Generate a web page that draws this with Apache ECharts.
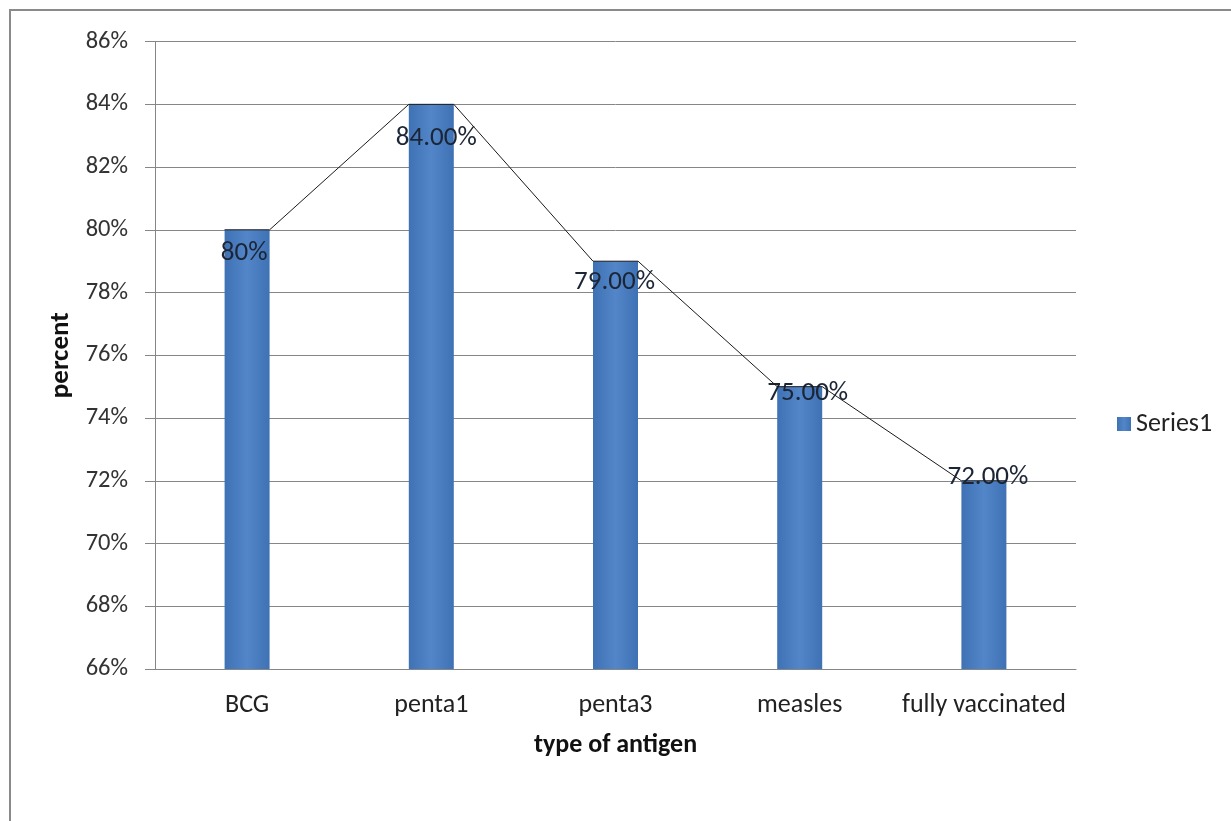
<!DOCTYPE html>
<html>
<head>
<meta charset="utf-8">
<script src="https://cdn.jsdelivr.net/npm/echarts@6/dist/echarts.min.js"></script>
<style>
  html, body { margin: 0; padding: 0; background: #fff; }
  #chart { width: 1231px; height: 821px; }
</style>
</head>
<body>
<div id="chart"></div>
<script>
// Immunisation coverage by antigen
const categories = ['BCG', 'penta1', 'penta3', 'measles', 'fully vaccinated'];
const coverage = [80, 84, 79, 75, 72];
const coverageLabels = ['80%', '84.00%', '79.00%', '75.00%', '72.00%'];
const yTicks = { min: 66, max: 86, step: 2 };

const FONT = 'Carlito, Lato, sans-serif';
const BAR_W = 45;
// small per-label nudges [dx, dy] around the top of each bar
const labelNudge = [[-3, 9.5], [5, 20.5], [-1, 7.5], [8, -6.5], [4, -17.5]];

const chart = echarts.init(document.getElementById('chart'), null, { renderer: 'canvas' });

const barData = coverage.map((v, i) => ({
  value: v,
  label: { offset: labelNudge[i] }
}));

const option = {
  backgroundColor: '#ffffff',
  animation: false,
  graphic: [{
    type: 'rect',
    shape: { x: 10, y: 10, width: 1240, height: 840 },
    style: { fill: null, stroke: '#8a8a8a', lineWidth: 2 },
    silent: true,
    z: 100
  }],
  grid: { left: 155, right: 155, top: 41.6, bottom: 152, containLabel: false },
  legend: {
    data: ['Series1'],
    left: 1112,
    top: 406,
    orient: 'vertical',
    icon: 'rect',
    itemWidth: 14,
    itemHeight: 14,
    itemGap: 4,
    textStyle: { fontFamily: FONT, fontSize: 26, color: '#222' }
  },
  xAxis: {
    type: 'category',
    data: categories,
    name: 'type of antigen',
    nameLocation: 'middle',
    nameGap: 63,
    nameTextStyle: { fontFamily: FONT, fontSize: 26, fontWeight: 'bold', color: '#111' },
    axisLine: { lineStyle: { color: '#868686', width: 1 } },
    axisTick: { show: false },
    axisLabel: { interval: 0, fontFamily: FONT, fontSize: 26, color: '#222', margin: 23 }
  },
  yAxis: {
    type: 'value',
    min: yTicks.min,
    max: yTicks.max,
    interval: yTicks.step,
    name: 'percent',
    nameLocation: 'middle',
    nameGap: 80,
    nameTextStyle: { fontFamily: FONT, fontSize: 27, fontWeight: 'bold', color: '#111' },
    axisLine: { show: true, lineStyle: { color: '#868686', width: 1 } },
    axisTick: { show: true, length: 10, lineStyle: { color: '#868686' } },
    axisLabel: {
      fontFamily: FONT, fontSize: 24.5, color: '#333', margin: 27,
      formatter: '{value}%'
    },
    splitLine: { show: true, lineStyle: { color: '#868686', width: 1 } }
  },
  series: [
    {
      name: 'Series1',
      type: 'bar',
      data: barData,
      barWidth: BAR_W,
      itemStyle: {
        color: new echarts.graphic.LinearGradient(0, 0, 1, 0, [
          { offset: 0, color: '#3f72b5' },
          { offset: 0.5, color: '#5286c8' },
          { offset: 1, color: '#3f72b5' }
        ])
      },
      label: {
        show: true,
        position: 'insideTop',
        distance: 0,
        fontFamily: FONT,
        fontSize: 27,
        color: '#1c2535',
        formatter: (p) => coverageLabels[p.dataIndex]
      },
      z: 2
    },
    {
      name: 'trend',
      type: 'custom',
      data: coverage.map((v, i) => [i, v]),
      encode: { x: 0, y: 1 },
      silent: true,
      z: 5,
      renderItem: (params, api) => {
        const i = api.value(0);
        const half = BAR_W / 2;
        const top = api.coord([i, coverage[i]]);
        const pts = [[top[0] - half, top[1]], [top[0] + half, top[1]]];
        if (i < coverage.length - 1) {
          const next = api.coord([i + 1, coverage[i + 1]]);
          pts.push([next[0] - half, next[1]]);
        }
        return {
          type: 'polyline',
          shape: { points: pts },
          style: { stroke: '#1a1a1a', lineWidth: 1, fill: null }
        };
      }
    }
  ]
};

chart.setOption(option);
</script>
</body>
</html>
